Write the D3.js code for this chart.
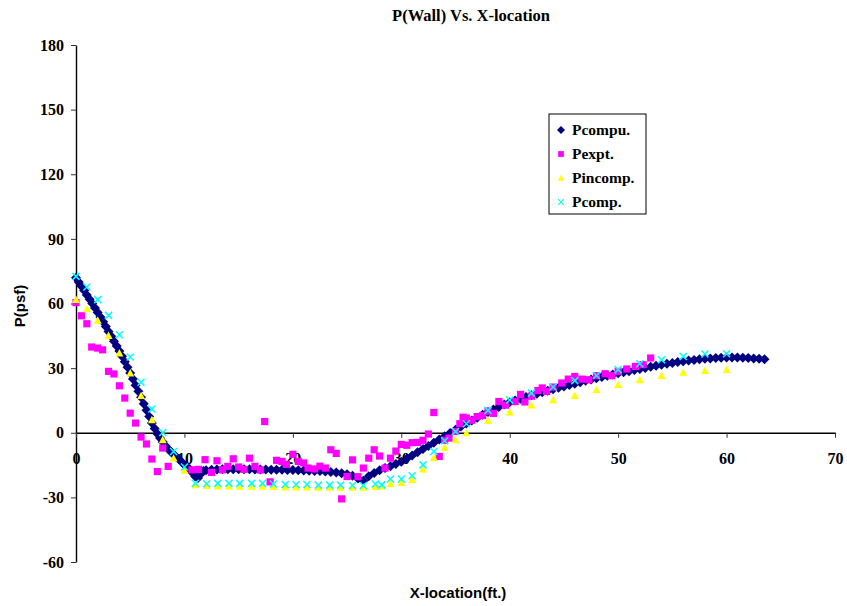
<!DOCTYPE html>
<html>
<head>
<meta charset="utf-8">
<script src="https://cdn.jsdelivr.net/npm/d3@7"></script>
<style>
  body { margin: 0; background: #fff; }
  svg { display: block; }
  .serif { font-family: "Liberation Serif", "Times New Roman", serif; font-weight: bold; }
  .sans { font-family: "Liberation Sans", Arial, sans-serif; font-weight: bold; }
</style>
</head>
<body>
<svg id="chart" width="847" height="606"></svg>
<script>
// values, [x (ft), P (psf)]
const pcompu = [
  [0,72],[0.25,70],[0.5,68],[0.75,66],[1,64],[1.25,62],[1.5,60],[1.75,57.9],[2,55.8],[2.25,53.7],
  [2.5,51.5],[2.75,49.3],[3,47],[3.25,44.8],[3.5,42.5],[3.75,40.3],[4,38],[4.25,35.5],[4.5,33],[4.75,30.4],
  [5,27.7],[5.25,24.9],[5.5,22],[5.75,19.3],[6,16.5],[6.25,13.5],[6.5,10.5],[6.75,7.5],[7,4.5],[7.25,2],
  [7.5,-0.5],[7.75,-2.4],[8,-4.3],[8.25,-6],[8.5,-7.5],[8.75,-8.8],[9,-10],[9.25,-11.2],[9.5,-12.3],[9.75,-13.6],
  [10,-14.8],[10.25,-15.9],[10.5,-17],[10.75,-18.6],[11,-20.3],[11.25,-21],[11.5,-19.2],[11.75,-17.8],[12,-17.4],
  [12.5,-17.2],[13,-17.1],[13.5,-17],[14,-17],[14.5,-17],[15,-17],[15.5,-17],[16,-17],[16.5,-17.1],[17,-17.1],
  [17.5,-17.1],[18,-17.2],[18.5,-17.2],[19,-17.2],[19.5,-17.3],[20,-17.3],[20.5,-17.4],[21,-17.5],[21.5,-17.6],
  [22,-17.7],[22.5,-17.8],[23,-18],[23.5,-18.2],[24,-18.5],[24.5,-18.8],[25,-19.3],[25.5,-20],[26,-21.2],
  [26.5,-22.3],[27,-20.2],[27.5,-18.7],[28,-17.4],[28.5,-16.4],[29,-15.5],[29.5,-14.5],[30,-13.5],[30.5,-12.1],
  [31,-10.6],[31.5,-9.1],[32,-7.6],[32.5,-6.1],[33,-4.6],[33.5,-3.1],[34,-1.6],[34.5,-0.1],[35,1.4],[35.5,2.9],
  [36,4.3],[36.5,5.7],[37,7],[37.5,8.3],[38,9.6],[38.5,10.8],[39,12],[39.5,13.1],[40,14.2],[40.5,15],[41,15.8],
  [41.5,16.6],[42,17.4],[42.5,18.1],[43,18.8],[43.5,19.5],[44,20.2],[44.5,20.9],[45,21.5],[45.5,22.2],[46,22.8],
  [46.5,23.5],[47,24.1],[47.5,24.7],[48,25.3],[48.5,25.9],[49,26.5],[49.5,27],[50,27.6],[50.5,28.1],[51,28.6],
  [51.5,29.1],[52,29.6],[52.5,30.1],[53,30.6],[53.5,31.1],[54,31.6],[54.5,32],[55,32.4],[55.5,32.8],[56,33.2],
  [56.5,33.5],[57,33.8],[57.5,34.1],[58,34.3],[58.5,34.5],[59,34.7],[59.5,34.8],[60,34.9],[60.5,34.9],[61,34.9],
  [61.5,34.8],[62,34.7],[62.5,34.5],[63,34.3],[63.5,34.1]
];

const pexpt = [
  [0,60.4],[0.5,54.3],[1,50.6],[1.45,39.8],[2,39.3],[2.45,38.5],[3,28.5],[3.5,27.3],[4,21.8],[4.5,16.1],
  [5,9.1],[5.5,4.5],[6,-2],[6.5,-5.2],[7,-12.2],[7.5,-18],[8,-7.1],[8.5,-15.6],[10.7,-17.2],[11.3,-17],
  [11.9,-12.5],[12.5,-18.4],[13,-13],[13.5,-17.2],[14,-15.6],[14.5,-12.1],[15,-15.9],[15.5,-17],[16,-11.8],
  [16.5,-15.6],[17,-17.3],[17.4,5.2],[17.9,-22.8],[18.5,-12.8],[19,-13.3],[19.4,-14.7],[20,-10],[20.5,-13.3],
  [21,-14],[21.4,-16.4],[22,-16.8],[22.5,-15.5],[23,-16.4],[23.5,-7.9],[24,-9.6],[24.5,-30.7],[25,-20.3],
  [25.5,-12.6],[26,-20.4],[26.5,-16.4],[27,-11.8],[27.5,-7.9],[28,-10.8],[28.5,-16.4],[29,-11.8],[29.5,-8.5],
  [30,-5.4],[30.5,-5.8],[31,-4.6],[31.5,-4.5],[32,-3.5],[32.5,-0.6],[33,9.4],[33.5,-11],[34,-3.5],[34.4,-2.5],
  [35,0.6],[35.4,4.2],[35.7,7.2],[36,6.8],[36.5,5.8],[37,7.5],[37.5,8],[38,10],[38.5,9],[39,14.5],[39.6,12.8],
  [40.5,14.5],[41,17.8],[41.4,14.3],[42,17],[42.6,19.6],[43,20.8],[43.4,19.2],[44,21.2],[44.8,23.1],[45.4,24.9],
  [46,26.1],[46.65,24.9],[47.3,24.6],[48,26.5],[48.8,27.4],[49.4,26.5],[50,28.5],[50.8,29.6],[51.6,30.8],
  [52.3,31.6],[53,34.7]
];

const pincomp = [
  [0,61.8],[1,57.5],[2,52.2],[3,45.1],[4,37],[5,27.7],[6,17.2],[7,6],[8,-3.3],[9,-11.8],[10,-17.5],[11,-24.2],
  [12.05,-24.5],[13.07,-24.8],[14.1,-24.8],[15.1,-24.9],[16.2,-24.9],[17.2,-24.9],[18.2,-25],[19.3,-25.2],
  [20.3,-25.2],[21.3,-25.2],[22.35,-25.3],[23.4,-25.3],[24.4,-25.3],[25.5,-25.3],[26.5,-25.3],[27.6,-25],
  [28.2,-24.8],[29,-23.6],[30,-23.1],[31,-21.8],[32,-16.9],[33,-11.5],[34,-6.8],[35,-3.3],[36,-0.1],[38,5.6],
  [40,9.6],[42,12.8],[44,15.3],[46,17.3],[48,20],[50,22.3],[52,24.6],[54,26.5],[56,28],[58,28.8],[60,29.3]
];

const pcomp = [
  [0,72.6],[1,67.7],[2,61.8],[3,54.5],[4,45.5],[5,35.2],[6,23.4],[7,11],[8,0.1],[9,-8.7],[10,-15.9],[11,-23.4],
  [12.05,-23.7],[13.07,-23.5],[14.1,-23.5],[15.1,-23.5],[16.2,-23.5],[17.2,-23.5],[18.2,-23.8],[19.3,-24],
  [20.3,-24],[21.3,-24],[22.35,-24.3],[23.4,-24.3],[24.4,-24.3],[25.5,-24.5],[26.5,-24.5],[27.6,-23.8],
  [28.2,-24.2],[29,-21.5],[30,-21.5],[31,-20],[32,-14.9],[33,-8.7],[34,-3.7],[35,0.6],[36,4.2],[38,10.4],
  [40,15.2],[42,18.4],[44,21.2],[46,24.2],[48,26.6],[50,29.3],[52,32],[54,33.9],[56,35.4],[58,36.6],[60,36.7]
];

const xTicks = [0, 10, 20, 30, 40, 50, 60, 70];
const yTicks = [-60, -30, 0, 30, 60, 90, 120, 150, 180];
const seriesNames = ["Pcompu.", "Pexpt.", "Pincomp.", "Pcomp."];

// marker shapes, Excel style
const marker = {
  diamond: r => `M0,${-r}L${r},0L0,${r}L${-r},0Z`,
  square: s => `M${-s},${-s}h${2*s}v${2*s}h${-2*s}Z`,
  triangle: s => `M0,${-s}L${s},${s*0.85}L${-s},${s*0.85}Z`,
  cross: s => `M${-s},${-s}L${s},${s}M${s},${-s}L${-s},${s}`
};

const series = [
  {name: seriesNames[0], data: pcompu, path: marker.diamond(5), fill: "#000080", stroke: "none"},
  {name: seriesNames[1], data: pexpt, path: marker.square(3.6), fill: "#ff00ff", stroke: "none"},
  {name: seriesNames[2], data: pincomp, path: marker.triangle(4), fill: "#ffff00", stroke: "none"},
  {name: seriesNames[3], data: pcomp, path: marker.cross(3.5), fill: "none", stroke: "#00ffff"}
];

const svg = d3.select('#chart');

const x = d3.scaleLinear().domain([0, 70]).range([76, 835]);
const y = d3.scaleLinear().domain([-60, 180]).range([562, 45]);

// y axis on the left edge
const yAxis = svg.append('g')
  .attr('transform', `translate(${x(0)},0)`)
  .call(d3.axisLeft(y).tickValues(yTicks).tickFormat(d => String(d))
    .tickSize(5).tickPadding(7).tickSizeOuter(0));
yAxis.selectAll('text').attr('class', 'serif').style('font-size', '16px').attr('fill', '#000');

// x axis crossing at P = 0
const xAxis = svg.append('g')
  .attr('transform', `translate(0,${y(0)})`)
  .call(d3.axisBottom(x).tickValues(xTicks).tickFormat(d => String(d))
    .tickSize(5).tickPadding(15).tickSizeOuter(0));
xAxis.selectAll('text').attr('class', 'serif').style('font-size', '16px').attr('fill', '#000');

svg.selectAll('.domain').attr('stroke', '#000').attr('stroke-width', 1.4);
svg.selectAll('.tick line').attr('stroke', '#333');

// series, drawn in Excel order so crosses end on top
series.forEach(s => {
  svg.append('g').selectAll('path').data(s.data).enter().append('path')
    .attr('d', s.path)
    .attr('transform', d => `translate(${x(d[0])},${y(d[1])})`)
    .attr('fill', s.fill)
    .attr('stroke', s.stroke)
    .attr('stroke-width', 1.5);
});

// titles
svg.append('text').attr('class', 'serif').attr('x', 471).attr('y', 21)
  .attr('text-anchor', 'middle').style('font-size', '16.5px').text('P(Wall) Vs. X-location');
svg.append('text').attr('class', 'sans').attr('x', 458).attr('y', 598)
  .attr('text-anchor', 'middle').style('font-size', '15px').text('X-location(ft.)');
svg.append('text').attr('class', 'sans')
  .attr('transform', 'translate(25,306) rotate(-90)')
  .attr('text-anchor', 'middle').style('font-size', '15px').text('P(psf)');

// legend
const legend = svg.append('g').attr('transform', 'translate(549,114)');
legend.append('rect').attr('width', 97).attr('height', 100)
  .attr('fill', '#fff').attr('stroke', '#000').attr('stroke-width', 1);
series.forEach((s, i) => {
  const row = legend.append('g').attr('transform', `translate(0,${16 + i * 24})`);
  row.append('path').attr('d', s.path).attr('transform', 'translate(12,0) scale(0.8)')
    .attr('fill', s.fill).attr('stroke', s.stroke).attr('stroke-width', 1.5);
  row.append('text').attr('class', 'serif').attr('x', 23).attr('y', 5)
    .style('font-size', '15.5px').text(s.name);
});
</script>
</body>
</html>
